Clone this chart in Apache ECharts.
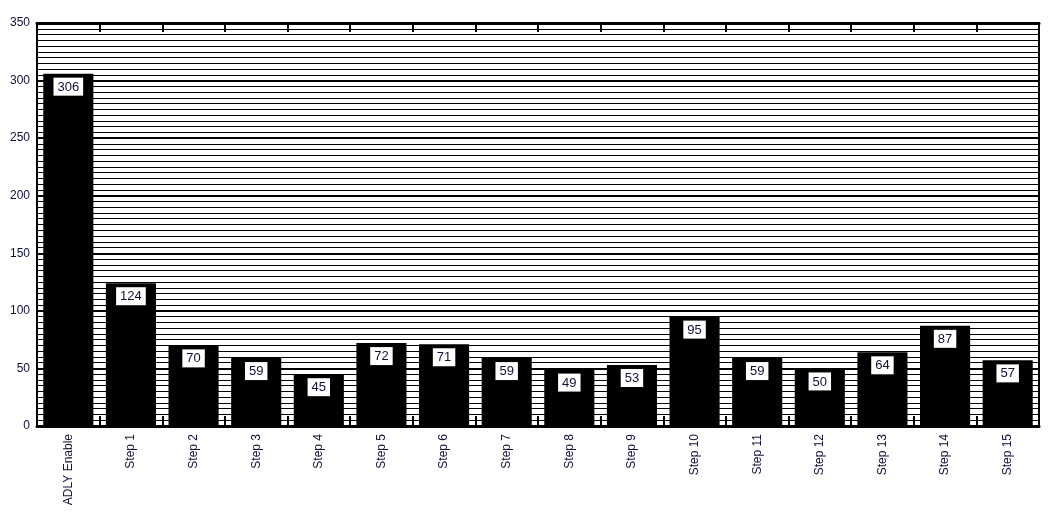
<!DOCTYPE html>
<html><head><meta charset="utf-8">
<script src="https://cdn.jsdelivr.net/npm/echarts@6/dist/echarts.min.js"></script>
<style>html,body{margin:0;padding:0;background:#fff}#c{width:1064px;height:520px}</style>
</head><body><div id="c"></div>
<script>
const categories = ["ADLY Enable","Step 1","Step 2","Step 3","Step 4","Step 5","Step 6","Step 7","Step 8","Step 9","Step 10","Step 11","Step 12","Step 13","Step 14","Step 15"];
const values = [306,124,70,59,45,72,71,59,49,53,95,59,50,64,87,57];
const yTicks = [0,50,100,150,200,250,300,350];

const txt = '#10103a';
const chart = echarts.init(document.getElementById('c'));
chart.setOption({
  animation:false,
  backgroundColor:'#fff',
  textStyle:{fontFamily:'Liberation Sans, Arial, sans-serif'},
  grid:{left:37,right:25,top:23,bottom:94,show:true,borderColor:'#000',borderWidth:2,backgroundColor:'transparent'},
  xAxis:[{
    type:'category',data:categories,position:'bottom',
    axisLine:{lineStyle:{color:'#000',width:3}},
    axisTick:{show:true,interval:0,inside:true,length:10,lineStyle:{color:'#000',width:2}},
    axisLabel:{interval:0,rotate:90,margin:8,color:txt,fontSize:12,fontFamily:'Liberation Sans, Arial, sans-serif'}
  },{
    type:'category',data:categories,position:'top',
    axisLine:{lineStyle:{color:'#000',width:3}},
    axisTick:{show:true,interval:0,inside:true,length:9,lineStyle:{color:'#000',width:2}},
    axisLabel:{show:false}
  }],
  yAxis:{
    type:'value',min:0,max:350,interval:50,
    axisLine:{show:true,lineStyle:{color:'#000',width:2}},
    axisTick:{show:false},
    axisLabel:{color:txt,fontSize:12,margin:7,fontFamily:'Liberation Sans, Arial, sans-serif',
      formatter:function(v){return yTicks.indexOf(v)>=0?String(v):'';}},
    splitLine:{show:true,lineStyle:{color:'#000',width:2}},
    minorTick:{show:false,splitNumber:10},
    minorSplitLine:{show:true,lineStyle:{color:'#000',width:1}}
  },
  series:[{
    type:'bar',data:values,barWidth:'80%',
    itemStyle:{color:'#000'},
    label:{show:true,position:'insideTop',distance:4,color:txt,backgroundColor:'#fff',
      padding:[3,4,2,4],fontSize:13,fontFamily:'Liberation Sans, Arial, sans-serif'}
  }]
});
</script></body></html>
